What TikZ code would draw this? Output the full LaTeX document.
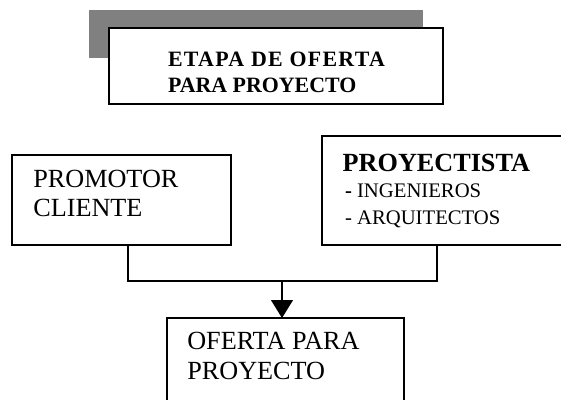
\documentclass[tikz,border=0pt]{standalone}
\usepackage{fontspec}
\setmainfont{Liberation Serif}
\usetikzlibrary{arrows.meta}
\tikzset{
  box/.style={draw=black, line width=1.2pt, fill=white, inner sep=0pt, outer sep=0pt},
  shade/.style={fill=black!50, draw=none, inner sep=0pt, outer sep=0pt},
  conn/.style={draw=black, line width=1.2pt},
  arr/.style={conn, -{Triangle[width=22pt,length=18pt]}},
  txt/.style={anchor=base west, inner sep=0pt, outer sep=0pt},
  titlefont/.style={font={\fontsize{21.9}{25}\selectfont\bfseries}},
  titlefontx/.style={font={\fontsize{21.9}{25}\selectfont\bfseries\addfontfeature{LetterSpace=6}}},
  bodyfont/.style={font={\fontsize{26.2}{29}\selectfont}},
  headfont/.style={font={\fontsize{26.2}{29}\selectfont\bfseries}},
  listfont/.style={font={\fontsize{20.7}{24}\selectfont}}
}
\begin{document}
\begin{tikzpicture}[x=1pt,y=-1pt]
\useasboundingbox (0,0) rectangle (561,399);
\clip (0,0) rectangle (561,399);
% title
\node[shade, minimum width=334pt, minimum height=48pt] (shadow) at (256,34) {};
\node[box, minimum width=334pt, minimum height=76pt] (title) at (276,66) {};
\node[txt, titlefontx] (t1) at (168,66.7) {ETAPA DE OFERTA};
\node[txt, titlefont] (t2) at (168,92.3) {PARA PROYECTO};
% promotor
\node[box, minimum width=219pt, minimum height=90pt] (promotor) at (121.5,200) {};
\node[txt, bodyfont] (p1) at (33.3,187.7) {PROMOTOR};
\node[txt, bodyfont] (p2) at (33.3,216.7) {CLIENTE};
% proyectista
\node[box, minimum width=248pt, minimum height=109pt] (proyectista) at (446,190.5) {};
\node[txt, headfont] (y1) at (342.7,171) {PROYECTISTA};
\node[txt, listfont] (y2) at (345,197.5) {\textbf{-} INGENIEROS};
\node[txt, listfont] (y3) at (345,224.5) {- ARQUITECTOS};
% oferta
\node[box, minimum width=237pt, minimum height=92pt] (oferta) at (285.5,364) {};
\node[txt, bodyfont] (o1) at (187.3,349.5) {OFERTA PARA};
\node[txt, bodyfont] (o2) at (187.3,379) {PROYECTO};
% connectors
\coordinate (jl) at (128,281);
\coordinate (jr) at (437,281);
\coordinate (jm) at (282,281);
\draw[conn] (promotor.south -| jl) -- (jl) -- (jr) -- (proyectista.south -| jr);
\draw[arr] (jm) -- (oferta.north -| jm);
\end{tikzpicture}
\end{document}
